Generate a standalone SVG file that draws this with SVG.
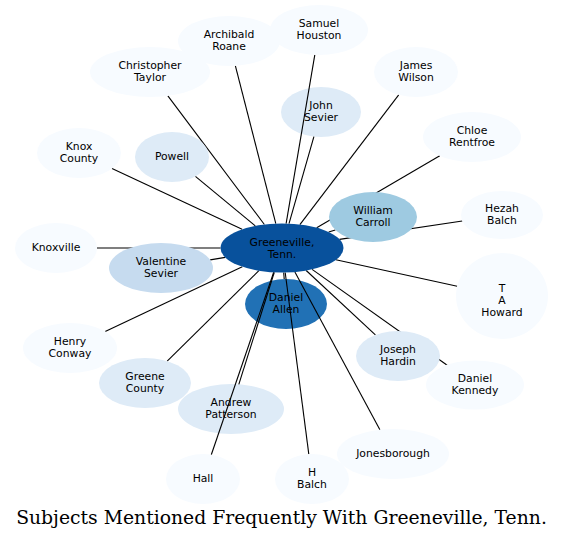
<svg xmlns="http://www.w3.org/2000/svg" width="564" height="540" viewBox="0 0 564 540">
<style>
.n text{font-family:"DejaVu Sans","Noto Sans",sans-serif;font-size:10.8px;fill:#000;text-anchor:middle}
.c0{fill:#f7fbff}.c1{fill:#deebf7}.c2{fill:#c6dbef}.c3{fill:#9ecae1}.c6{fill:#2171b5}.c7{fill:#08519c}
#connectors line{stroke:#000;stroke-width:1.1;fill:none}
.title{font-family:"DejaVu Serif","Liberation Serif",serif;font-size:18.8px;fill:#000;text-anchor:middle}
</style>
<rect width="564" height="540" fill="#fff"/>
<g id="nodes-back">
<g id="n-daniel-allen" class="n"><ellipse class="c6" cx="286" cy="304" rx="41" ry="25"/><text x="286" y="301">Daniel</text><text x="286" y="313.3">Allen</text></g>
<g id="n-john-sevier" class="n"><ellipse class="c1" cx="321" cy="112" rx="40" ry="25"/><text x="321" y="109">John</text><text x="321" y="121.3">Sevier</text></g>
<g id="n-andrew-patterson" class="n"><ellipse class="c1" cx="231" cy="409" rx="53" ry="25"/><text x="231" y="406">Andrew</text><text x="231" y="418.3">Patterson</text></g>
</g>
<g id="connectors">
<line x1="275.8" y1="223.6" x2="235.4" y2="65.8"/>
<line x1="286.1" y1="223.6" x2="314.8" y2="54.9"/>
<line x1="264.4" y1="224.5" x2="167.9" y2="95.9"/>
<line x1="299.9" y1="224.6" x2="398.7" y2="94.8"/>
<line x1="289.0" y1="223.7" x2="313.9" y2="136.6"/>
<line x1="316.7" y1="227.8" x2="439.8" y2="155.8"/>
<line x1="242.1" y1="229.3" x2="112.0" y2="168.5"/>
<line x1="255.3" y1="225.9" x2="195.4" y2="176.4"/>
<line x1="328.7" y1="232.1" x2="335.3" y2="229.9"/>
<line x1="339.5" y1="239.4" x2="462.3" y2="221.0"/>
<line x1="220.5" y1="248" x2="97" y2="248"/>
<line x1="225.2" y1="257.4" x2="210.2" y2="259.9"/>
<line x1="335.9" y1="259.8" x2="457.2" y2="286.2"/>
<line x1="283.7" y1="272.5" x2="284.2" y2="279.0"/>
<line x1="242.3" y1="266.7" x2="105.2" y2="331.4"/>
<line x1="306.2" y1="270.5" x2="375.4" y2="334.9"/>
<line x1="258.9" y1="270.7" x2="167.2" y2="361.1"/>
<line x1="312.1" y1="269.4" x2="447.2" y2="365.2"/>
<line x1="274.3" y1="272.3" x2="238.8" y2="384.3"/>
<line x1="294.9" y1="272.0" x2="379.9" y2="429.7"/>
<line x1="273.7" y1="272.3" x2="211.3" y2="454.7"/>
<line x1="285.2" y1="272.5" x2="308.8" y2="454.1"/>
</g>
<g id="nodes-front">
<g id="n-archibald-roane" class="n"><ellipse class="c0" cx="229" cy="41" rx="51" ry="25"/><text x="229" y="38">Archibald</text><text x="229" y="50.3">Roane</text></g>
<g id="n-samuel-houston" class="n"><ellipse class="c0" cx="319" cy="30" rx="49" ry="25"/><text x="319" y="27">Samuel</text><text x="319" y="39.3">Houston</text></g>
<g id="n-christopher-taylor" class="n"><ellipse class="c0" cx="150" cy="72" rx="60" ry="25"/><text x="150" y="69">Christopher</text><text x="150" y="81.3">Taylor</text></g>
<g id="n-james-wilson" class="n"><ellipse class="c0" cx="416" cy="72" rx="42" ry="25"/><text x="416" y="69">James</text><text x="416" y="81.3">Wilson</text></g>
<g id="n-chloe-rentfroe" class="n"><ellipse class="c0" cx="472" cy="137" rx="49" ry="25"/><text x="472" y="134">Chloe</text><text x="472" y="146.3">Rentfroe</text></g>
<g id="n-knox-county" class="n"><ellipse class="c0" cx="79" cy="153" rx="42" ry="25"/><text x="79" y="150">Knox</text><text x="79" y="162.3">County</text></g>
<g id="n-powell" class="n"><ellipse class="c1" cx="172" cy="157" rx="37" ry="25"/><text x="172" y="160.4">Powell</text></g>
<g id="n-william-carroll" class="n"><ellipse class="c3" cx="373" cy="217" rx="44" ry="25"/><text x="373" y="214">William</text><text x="373" y="226.3">Carroll</text></g>
<g id="n-hezah-balch" class="n"><ellipse class="c0" cx="502" cy="215" rx="41" ry="24"/><text x="502" y="212">Hezah</text><text x="502" y="224.3">Balch</text></g>
<g id="n-knoxville" class="n"><ellipse class="c0" cx="56" cy="248" rx="41" ry="25"/><text x="56" y="251">Knoxville</text></g>
<g id="n-greeneville" class="n"><ellipse class="c7" cx="282" cy="248" rx="61.5" ry="24.5"/><text x="282" y="245.5">Greeneville,</text><text x="282" y="257.8">Tenn.</text></g>
<g id="n-valentine-sevier" class="n"><ellipse class="c2" cx="161" cy="268" rx="52" ry="25"/><text x="161" y="265">Valentine</text><text x="161" y="277.3">Sevier</text></g>
<g id="n-ta-howard" class="n"><ellipse class="c0" cx="502" cy="296" rx="46" ry="43"/><text x="502" y="292.2">T</text><text x="502" y="304">A</text><text x="502" y="316">Howard</text></g>
<g id="n-henry-conway" class="n"><ellipse class="c0" cx="70" cy="348" rx="47" ry="25"/><text x="70" y="345">Henry</text><text x="70" y="357.3">Conway</text></g>
<g id="n-joseph-hardin" class="n"><ellipse class="c1" cx="398" cy="356" rx="42" ry="25"/><text x="398" y="353">Joseph</text><text x="398" y="365.3">Hardin</text></g>
<g id="n-greene-county" class="n"><ellipse class="c1" cx="145" cy="383" rx="46" ry="25"/><text x="145" y="380">Greene</text><text x="145" y="392.3">County</text></g>
<g id="n-daniel-kennedy" class="n"><ellipse class="c0" cx="475" cy="385" rx="49" ry="24.5"/><text x="475" y="382">Daniel</text><text x="475" y="394.3">Kennedy</text></g>
<g id="n-jonesborough" class="n"><ellipse class="c0" cx="393" cy="454" rx="56" ry="25"/><text x="393" y="457">Jonesborough</text></g>
<g id="n-hall" class="n"><ellipse class="c0" cx="203" cy="479" rx="37" ry="25"/><text x="203" y="482">Hall</text></g>
<g id="n-h-balch" class="n"><ellipse class="c0" cx="312" cy="479" rx="37" ry="25"/><text x="312" y="476">H</text><text x="312" y="488.3">Balch</text></g>
</g>
<text class="title" x="281.5" y="523.5">Subjects Mentioned Frequently With Greeneville, Tenn.</text>
</svg>
